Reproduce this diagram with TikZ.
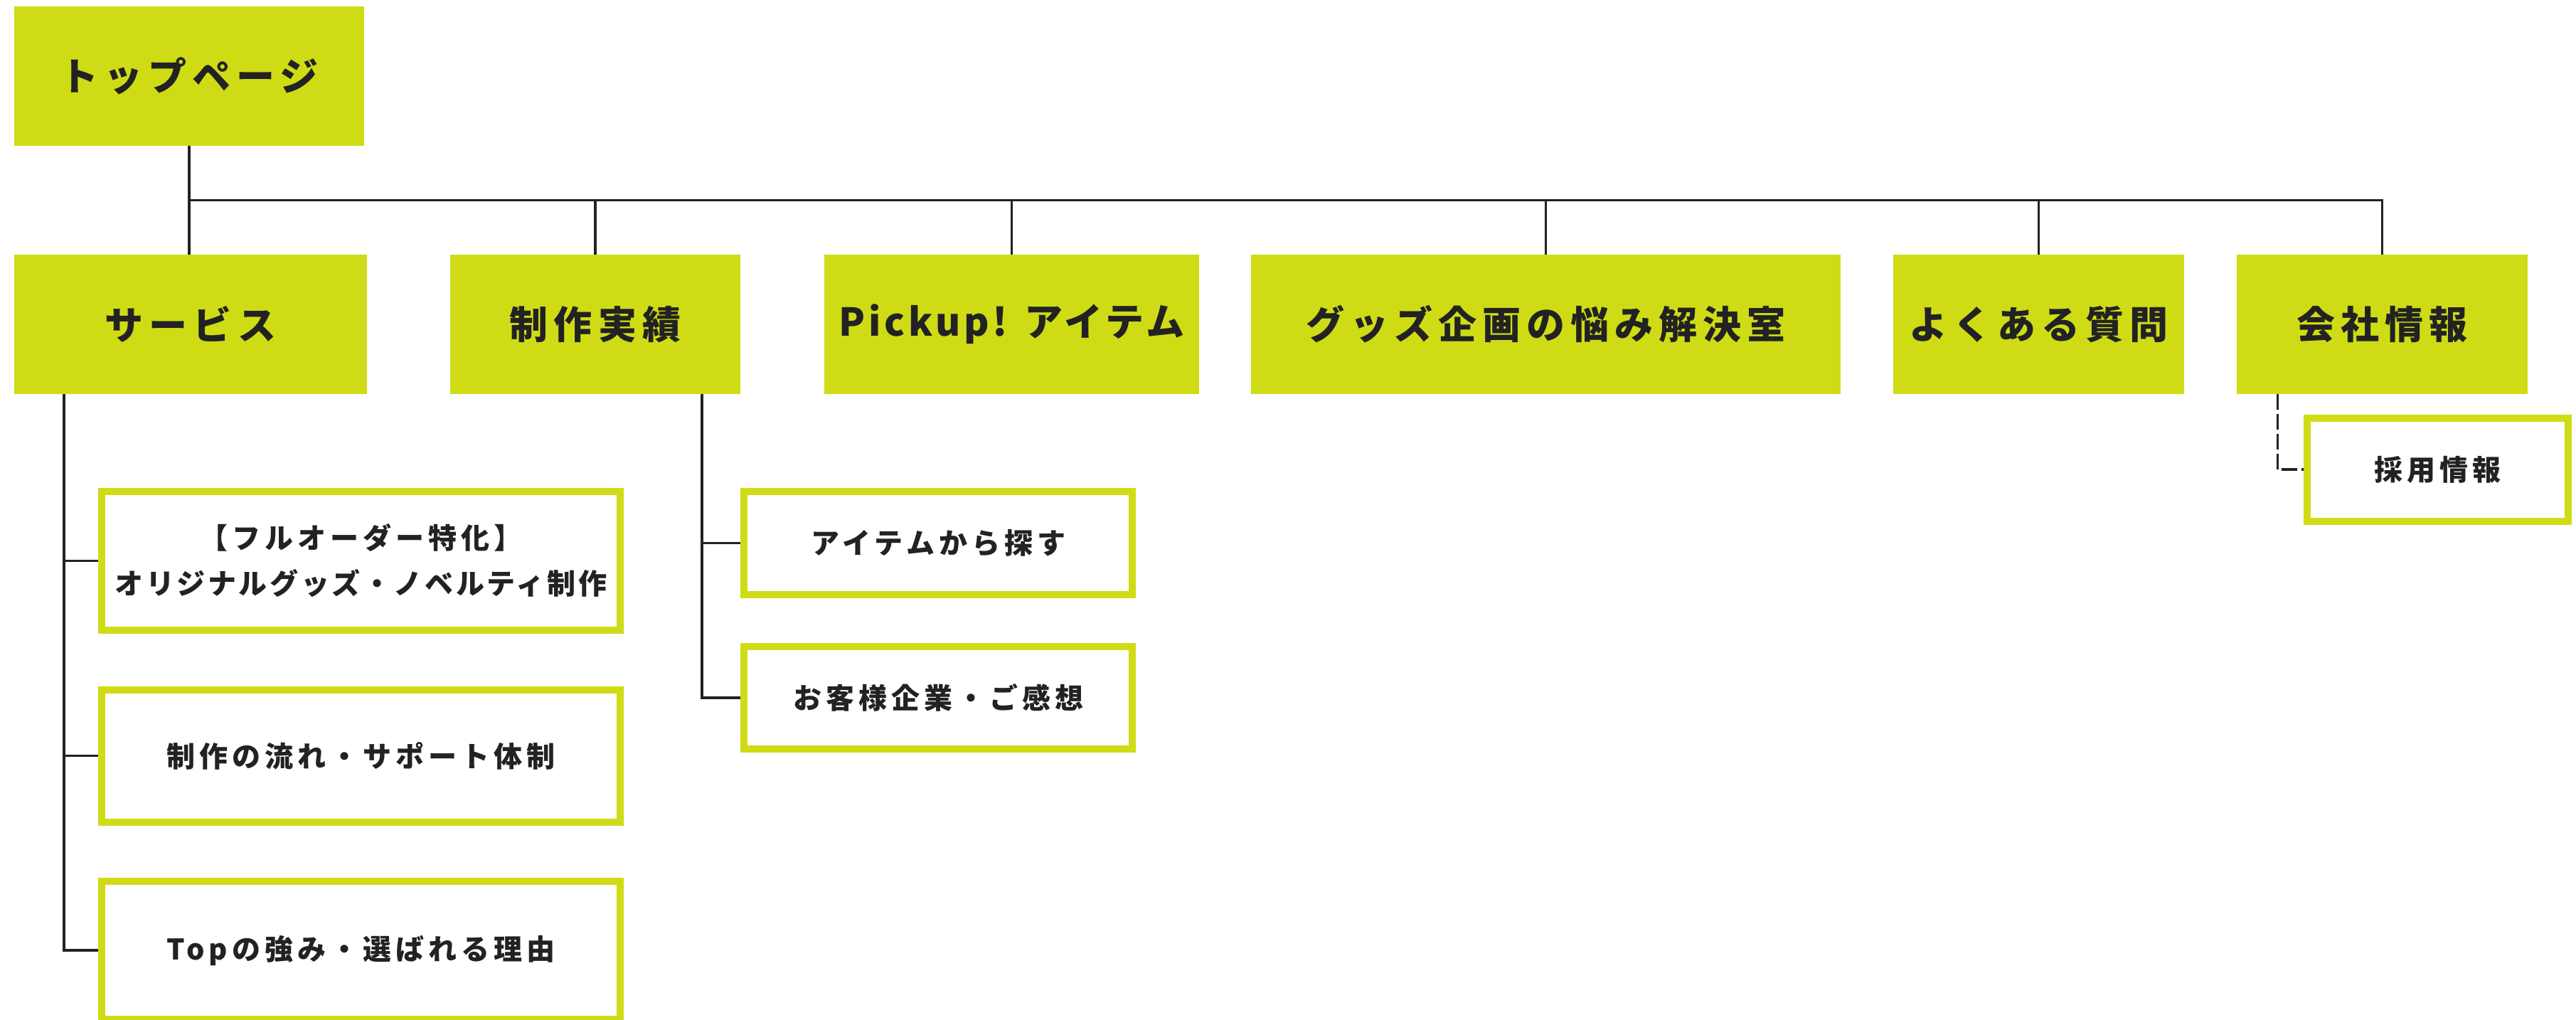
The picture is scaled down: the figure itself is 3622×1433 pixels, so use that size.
\documentclass[tikz,border=0pt]{standalone}
\usepackage{fontspec}
\setmainfont{Noto Sans CJK JP}[LetterSpace=15]
\usetikzlibrary{backgrounds}
\definecolor{lime}{HTML}{CFDC15}
\definecolor{ink}{HTML}{222222}
\newcommand{\tighter}{\addfontfeatures{LetterSpace=9}}
\tikzset{
  mainbox/.style={fill=lime, draw=none, inner sep=0pt, text=ink,
    font=\fontsize{54}{64}\selectfont\bfseries},
  subbox/.style={fill=white, draw=lime, line width=10pt, inner sep=0pt, text=ink,
    align=center, font=\fontsize{40}{64}\selectfont\bfseries},
  link/.style={draw=ink, line width=3.5pt},
  dlink/.style={draw=ink, line width=3.5pt, dash pattern=on 22pt off 6pt},
}
\begin{document}
\begin{tikzpicture}[x=1pt, y=-1pt]
\useasboundingbox (0,0) rectangle (3622,1433);
% level 0
\node[mainbox, minimum width=492pt, minimum height=196pt] (top) at (266,107) {トップページ};
% level 1
\node[mainbox, minimum width=496pt, minimum height=195.5pt] (svc) at (268,455.75) {サービス};
\node[mainbox, minimum width=408pt, minimum height=195.5pt] (works) at (837,455.75) {制作実績};
\node[mainbox, minimum width=527pt, minimum height=195.5pt] (pick) at (1422.5,455.75) {\tighter Pickup! アイテム};
\node[mainbox, minimum width=829pt, minimum height=195.5pt] (goods) at (2173.5,455.75) {グッズ企画の悩み解決室};
\node[mainbox, minimum width=409pt, minimum height=195.5pt] (faq) at (2866.5,455.75) {よくある質問};
\node[mainbox, minimum width=409pt, minimum height=195.5pt] (corp) at (3349.5,455.75) {会社情報};
% level 2
\node[subbox, minimum width=729.5pt, minimum height=195pt] (sA) at (507.25,788.5) {【フルオーダー特化】\\{\tighter オリジナルグッズ・ノベルティ制作}};
\node[subbox, minimum width=729.5pt, minimum height=186pt] (sB) at (507.25,1062.5) {制作の流れ・サポート体制};
\node[subbox, minimum width=729.5pt, minimum height=194pt] (sC) at (507.25,1336) {Topの強み・選ばれる理由};
\node[subbox, minimum width=546pt, minimum height=145pt] (wA) at (1319,763.5) {アイテムから探す};
\node[subbox, minimum width=546pt, minimum height=144pt] (wB) at (1319,981) {お客様企業・ご感想};
\node[subbox, minimum width=367pt, minimum height=145pt] (rec) at (3427.5,660) {採用情報};
% connectors
\coordinate (bus) at (266,281.5);
\coordinate (svspine) at (90,553.5);
\coordinate (wkspine) at (987,553.5);
\coordinate (crspine) at (3202.5,553.5);
\begin{scope}[on background layer]
\draw[link] (top.south) -- (top.south |- svc.north);
\draw[link] (bus) -| (corp.north);
\draw[link] (works.north) -- (works.north |- bus);
\draw[link] (pick.north) -- (pick.north |- bus);
\draw[link] (goods.north) -- (goods.north |- bus);
\draw[link] (faq.north) -- (faq.north |- bus);
\draw[link] (svspine) |- (sC.west);
\draw[link] (svspine |- sA.west) -- (sA.west);
\draw[link] (svspine |- sB.west) -- (sB.west);
\draw[link] (wkspine) |- (wB.west);
\draw[link] (wkspine |- wA.west) -- (wA.west);
\draw[dlink] (crspine) |- (rec.west);
\end{scope}
\end{tikzpicture}
\end{document}
